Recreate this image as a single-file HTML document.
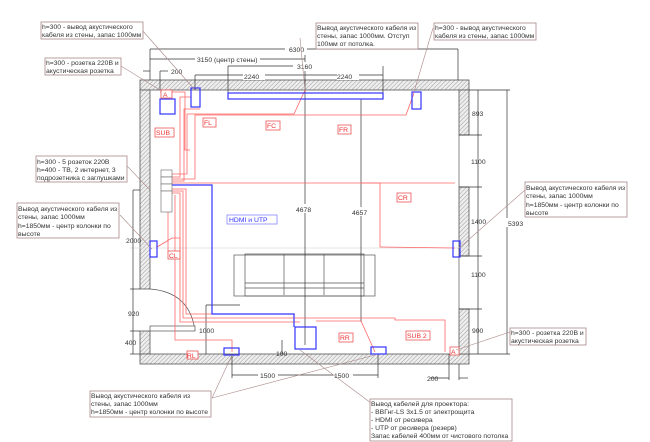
<!DOCTYPE html>
<html><head><meta charset="utf-8"><style>
html,body{margin:0;padding:0;background:#fff;width:650px;height:442px;overflow:hidden}
svg{display:block}
text{font-family:"Liberation Sans",sans-serif;font-size:6.8px;fill:#333}
.r{fill:#e33}
.lb{fill:#fff;stroke:#a88;stroke-width:0.8}
.rb{fill:#fff;stroke:#e55;stroke-width:0.8}
</style></head><body>
<svg width="650" height="442" viewBox="0 0 650 442">
<defs>
<pattern id="h" width="3" height="3" patternUnits="userSpaceOnUse" patternTransform="rotate(45)">
<rect width="3" height="3" fill="#eee"/><line x1="0" y1="0" x2="0" y2="3" stroke="#888" stroke-width="0.8"/>
</pattern>
</defs>
<g stroke="#555" stroke-width="0.8" fill="url(#h)">
<rect x="140" y="80" width="329" height="10"/>
<rect x="140" y="90" width="10" height="199"/>
<rect x="140" y="331" width="10" height="23"/>
<rect x="140" y="354" width="329" height="10"/>
<rect x="459" y="90" width="10" height="45"/>
<rect x="459" y="187" width="10" height="69"/>
<rect x="459" y="309" width="10" height="45"/>
</g>
<g stroke="#555" stroke-width="0.7" fill="none">
<line x1="459" y1="135" x2="459" y2="187"/><line x1="459" y1="256" x2="459" y2="309"/>
<path d="M150 289 Q190 292 195 331"/><rect x="150" y="326" width="45" height="5" fill="#fff"/>
<rect x="234" y="255" width="141" height="41"/>
<rect x="245" y="254" width="119" height="42"/>
<line x1="284" y1="254" x2="284" y2="295"/><line x1="324" y1="254" x2="324" y2="295"/>
<line x1="245" y1="283" x2="364" y2="283"/><line x1="245" y1="288" x2="364" y2="288"/>
<line x1="130" y1="248" x2="470" y2="248" stroke="#ddd"/>
</g>
<g stroke="#333" stroke-width="0.7" fill="none">
<line x1="150" y1="49" x2="458" y2="49"/><line x1="150" y1="49" x2="150" y2="80"/><line x1="458" y1="49" x2="458" y2="80"/>
<line x1="150" y1="59" x2="305" y2="59"/><line x1="305" y1="55" x2="305" y2="345"/>
<line x1="228" y1="66" x2="305" y2="66"/><line x1="228" y1="66" x2="228" y2="93"/>
<line x1="195" y1="75" x2="383" y2="75"/><line x1="383" y1="66" x2="383" y2="93"/><line x1="195" y1="75" x2="195" y2="90"/>
<line x1="143" y1="71" x2="150" y2="71"/><line x1="160" y1="71" x2="168" y2="71"/><line x1="160" y1="71" x2="160" y2="90"/>
<line x1="361" y1="99" x2="361" y2="322"/>
<line x1="469" y1="90" x2="510" y2="90"/><line x1="478" y1="90" x2="478" y2="354"/><line x1="507" y1="90" x2="507" y2="354"/>
<line x1="469" y1="354" x2="510" y2="354"/>
<line x1="459" y1="135" x2="482" y2="135"/><line x1="459" y1="187" x2="482" y2="187"/><line x1="459" y1="256" x2="482" y2="256"/><line x1="459" y1="309" x2="482" y2="309"/>
<line x1="133" y1="190" x2="133" y2="354"/><line x1="133" y1="190" x2="140" y2="190"/><line x1="130" y1="289" x2="140" y2="289"/><line x1="130" y1="331" x2="140" y2="331"/><line x1="130" y1="354" x2="140" y2="354"/>
<line x1="232" y1="375" x2="378" y2="375"/><line x1="232" y1="354" x2="232" y2="378"/><line x1="378" y1="354" x2="378" y2="378"/>
<line x1="430" y1="378" x2="449" y2="378"/><line x1="459" y1="378" x2="468" y2="378"/><line x1="449" y1="354" x2="449" y2="380"/><line x1="459" y1="364" x2="459" y2="380"/>
<line x1="206" y1="305" x2="206" y2="354"/><line x1="206" y1="305" x2="240" y2="305"/>
<line x1="282" y1="340" x2="282" y2="354"/>
</g>
<g style="font-size:7.5px">
<rect x="285" y="45" width="22" height="9" fill="#fff"/><text x="289" y="52">6300</text>
<rect x="195" y="55" width="65" height="9" fill="#fff"/><text x="197" y="62">3150 (центр стены)</text>
<rect x="293" y="62" width="24" height="9" fill="#fff"/><text x="297" y="69">3160</text>
<rect x="243" y="71" width="22" height="9" fill="#fff"/><text x="244" y="79">2240</text>
<rect x="337" y="71" width="22" height="9" fill="#fff"/><text x="337" y="79">2240</text>
<text x="171" y="74">200</text>
<text x="472" y="116">893</text><text x="471" y="164">1100</text><text x="471" y="224">1400</text><text x="471" y="277">1100</text><text x="472" y="333">900</text>
<rect x="505" y="218" width="22" height="9" fill="#fff"/><text x="508" y="226">5393</text>
<rect x="294" y="204" width="22" height="9" fill="#fff"/><text x="296" y="212">4678</text>
<rect x="350" y="207" width="22" height="9" fill="#fff"/><text x="352" y="215">4657</text>
<text x="126" y="243">2000</text><text x="128" y="316">920</text><text x="125" y="345">400</text>
<text x="199" y="333">1000</text><text x="276" y="356">100</text>
<rect x="258" y="371" width="20" height="9" fill="#fff"/><text x="260" y="378">1500</text>
<rect x="333" y="371" width="20" height="9" fill="#fff"/><text x="334" y="378">1500</text>
<text x="427" y="381">200</text>
</g>
<g stroke="#f66" stroke-width="0.8" fill="none">
<path d="M172 177 H180 V97 H191"/><path d="M172 181 H184 V109 H200"/><path d="M172 174 H187 V114 H294 L305 90"/>
<path d="M172 179 H195 V115 H406 L414 93"/>
<line x1="172" y1="183" x2="455" y2="183"/>
<path d="M168 194 V252 H180 V238 H172 L157 247"/>
<path d="M172 193 H180 V322 H300"/><path d="M172 191 H183 V318 H361"/><path d="M172 189 H186 V314 H295"/>
<path d="M175 195 V340 H232 V352"/>
<path d="M316 321 H361 L375 352"/>
<path d="M361 318 H395 V320 H445 V352"/>
<path d="M361 183 H380 V247 L455 248"/>
<path d="M160 92 H185 V150 H190"/>
</g>
<g stroke="#33f" stroke-width="1.2" fill="none">
<rect x="228" y="93" width="155" height="6"/>
<rect x="160" y="99" width="15" height="15"/>
<rect x="191" y="88" width="9" height="19"/>
<rect x="412" y="92" width="9" height="17"/>
<rect x="150" y="241" width="7" height="16"/>
<rect x="453" y="241" width="7" height="16"/>
<rect x="224" y="348" width="15" height="7"/>
<rect x="371" y="347" width="15" height="7"/>
<rect x="295" y="327" width="21" height="22"/>
<path d="M169 185 H212 V314 H294 V327"/>
</g>
<g stroke="#666" stroke-width="0.6" fill="#fff">
<rect x="161" y="170" width="11" height="7"/><rect x="161" y="177" width="11" height="7"/><rect x="161" y="184" width="11" height="7"/><rect x="161" y="191" width="11" height="21"/>
</g>
<g>
<rect class="rb" x="161" y="90" width="11" height="8"/><text class="r" x="163" y="97">A</text>
<rect class="rb" x="155" y="128" width="19" height="9"/><text class="r" x="156" y="135">SUB</text>
<rect class="rb" x="203" y="118" width="13" height="9"/><text class="r" x="204" y="125">FL</text>
<rect class="rb" x="266" y="121" width="14" height="9"/><text class="r" x="267" y="128">FC</text>
<rect class="rb" x="338" y="125" width="13" height="9"/><text class="r" x="339" y="132">FR</text>
<rect class="rb" x="397" y="193" width="14" height="9"/><text class="r" x="398" y="200">CR</text>
<rect class="rb" x="168" y="251" width="12" height="8"/><text class="r" x="169" y="258">CL</text>
<rect class="rb" x="187" y="351" width="11" height="8"/><text class="r" x="187" y="358">RL</text>
<rect class="rb" x="339" y="333" width="14" height="9"/><text class="r" x="340" y="340">RR</text>
<rect class="rb" x="406" y="331" width="24" height="9"/><text class="r" x="407" y="338">SUB 2</text>
<rect class="rb" x="450" y="347" width="9" height="8"/><text class="r" x="451" y="354">A</text>
<rect x="227" y="215" width="50" height="9" fill="#fff" stroke="#88f" stroke-width="0.8"/><text x="229" y="222" style="fill:#33f">HDMI и UTP</text>
</g>
<g stroke="#a88" stroke-width="0.6" fill="none">
<line x1="142" y1="30" x2="195" y2="90"/><line x1="121" y1="66" x2="160" y2="90"/>
<line x1="127" y1="166" x2="150" y2="190"/><line x1="120" y1="215" x2="152" y2="249"/>
<line x1="300" y1="38" x2="305" y2="90"/><line x1="433" y1="28" x2="414" y2="92"/>
<line x1="525" y1="190" x2="458" y2="249"/><line x1="510" y1="332" x2="456" y2="350"/>
<line x1="212" y1="398" x2="232" y2="355"/><line x1="212" y1="398" x2="375" y2="355"/>
<line x1="371" y1="403" x2="300" y2="350"/>
</g>
<g>
<rect class="lb" x="41" y="22" width="102" height="17"/><text x="42" y="29">h=300 - вывод акустического</text><text x="42" y="37">кабеля из стены, запас 1000мм</text>
<rect class="lb" x="45" y="58" width="76" height="17"/><text x="46" y="65">h=300 - розетка 220В и</text><text x="46" y="73">акустическая розетка</text>
<rect class="lb" x="36" y="156" width="91" height="26"/><text x="37" y="164">h=300 - 5 розеток 220В</text><text x="37" y="172">h=400 - ТВ, 2 интернет, 3</text><text x="37" y="180">подрозетника с заглушками</text>
<rect class="lb" x="17" y="203" width="102" height="35"/><text x="18" y="211">Вывод акустического кабеля из</text><text x="18" y="219">стены, запас 1000мм</text><text x="18" y="228">h=1850мм - центр колонки по</text><text x="18" y="236">высоте</text>
<rect class="lb" x="316" y="23" width="102" height="26"/><text x="317" y="30">Вывод акустического кабеля из</text><text x="317" y="38">стены, запас 1000мм. Отступ</text><text x="317" y="46">100мм от потолка.</text>
<rect class="lb" x="434" y="23" width="102" height="17"/><text x="435" y="30">h=300 - вывод акустического</text><text x="435" y="38">кабеля из стены, запас 1000мм</text>
<rect class="lb" x="525" y="182" width="102" height="35"/><text x="526" y="190">Вывод акустического кабеля из</text><text x="526" y="198">стены, запас 1000мм</text><text x="526" y="207">h=1850мм - центр колонки по</text><text x="526" y="215">высоте</text>
<rect class="lb" x="510" y="328" width="76" height="17"/><text x="511" y="335">h=300 - розетка 220В и</text><text x="511" y="343">акустическая розетка</text>
<rect class="lb" x="90" y="391" width="121" height="26"/><text x="91" y="398">Вывод акустического кабеля из</text><text x="91" y="406">стены, запас 1000мм</text><text x="91" y="414">h=1850мм - центр колонки по высоте</text>
<rect class="lb" x="370" y="399" width="142" height="42"/><text x="371" y="406">Вывод кабелей для проектора:</text><text x="371" y="414">- ВВГнг-LS 3x1.5 от электрощита</text><text x="371" y="422">- HDMI от ресивера</text><text x="371" y="430">- UTP от ресивера (резерв)</text><text x="371" y="438">Запас кабелей 400мм от чистового потолка</text>
</g>
</svg>
</body></html>
